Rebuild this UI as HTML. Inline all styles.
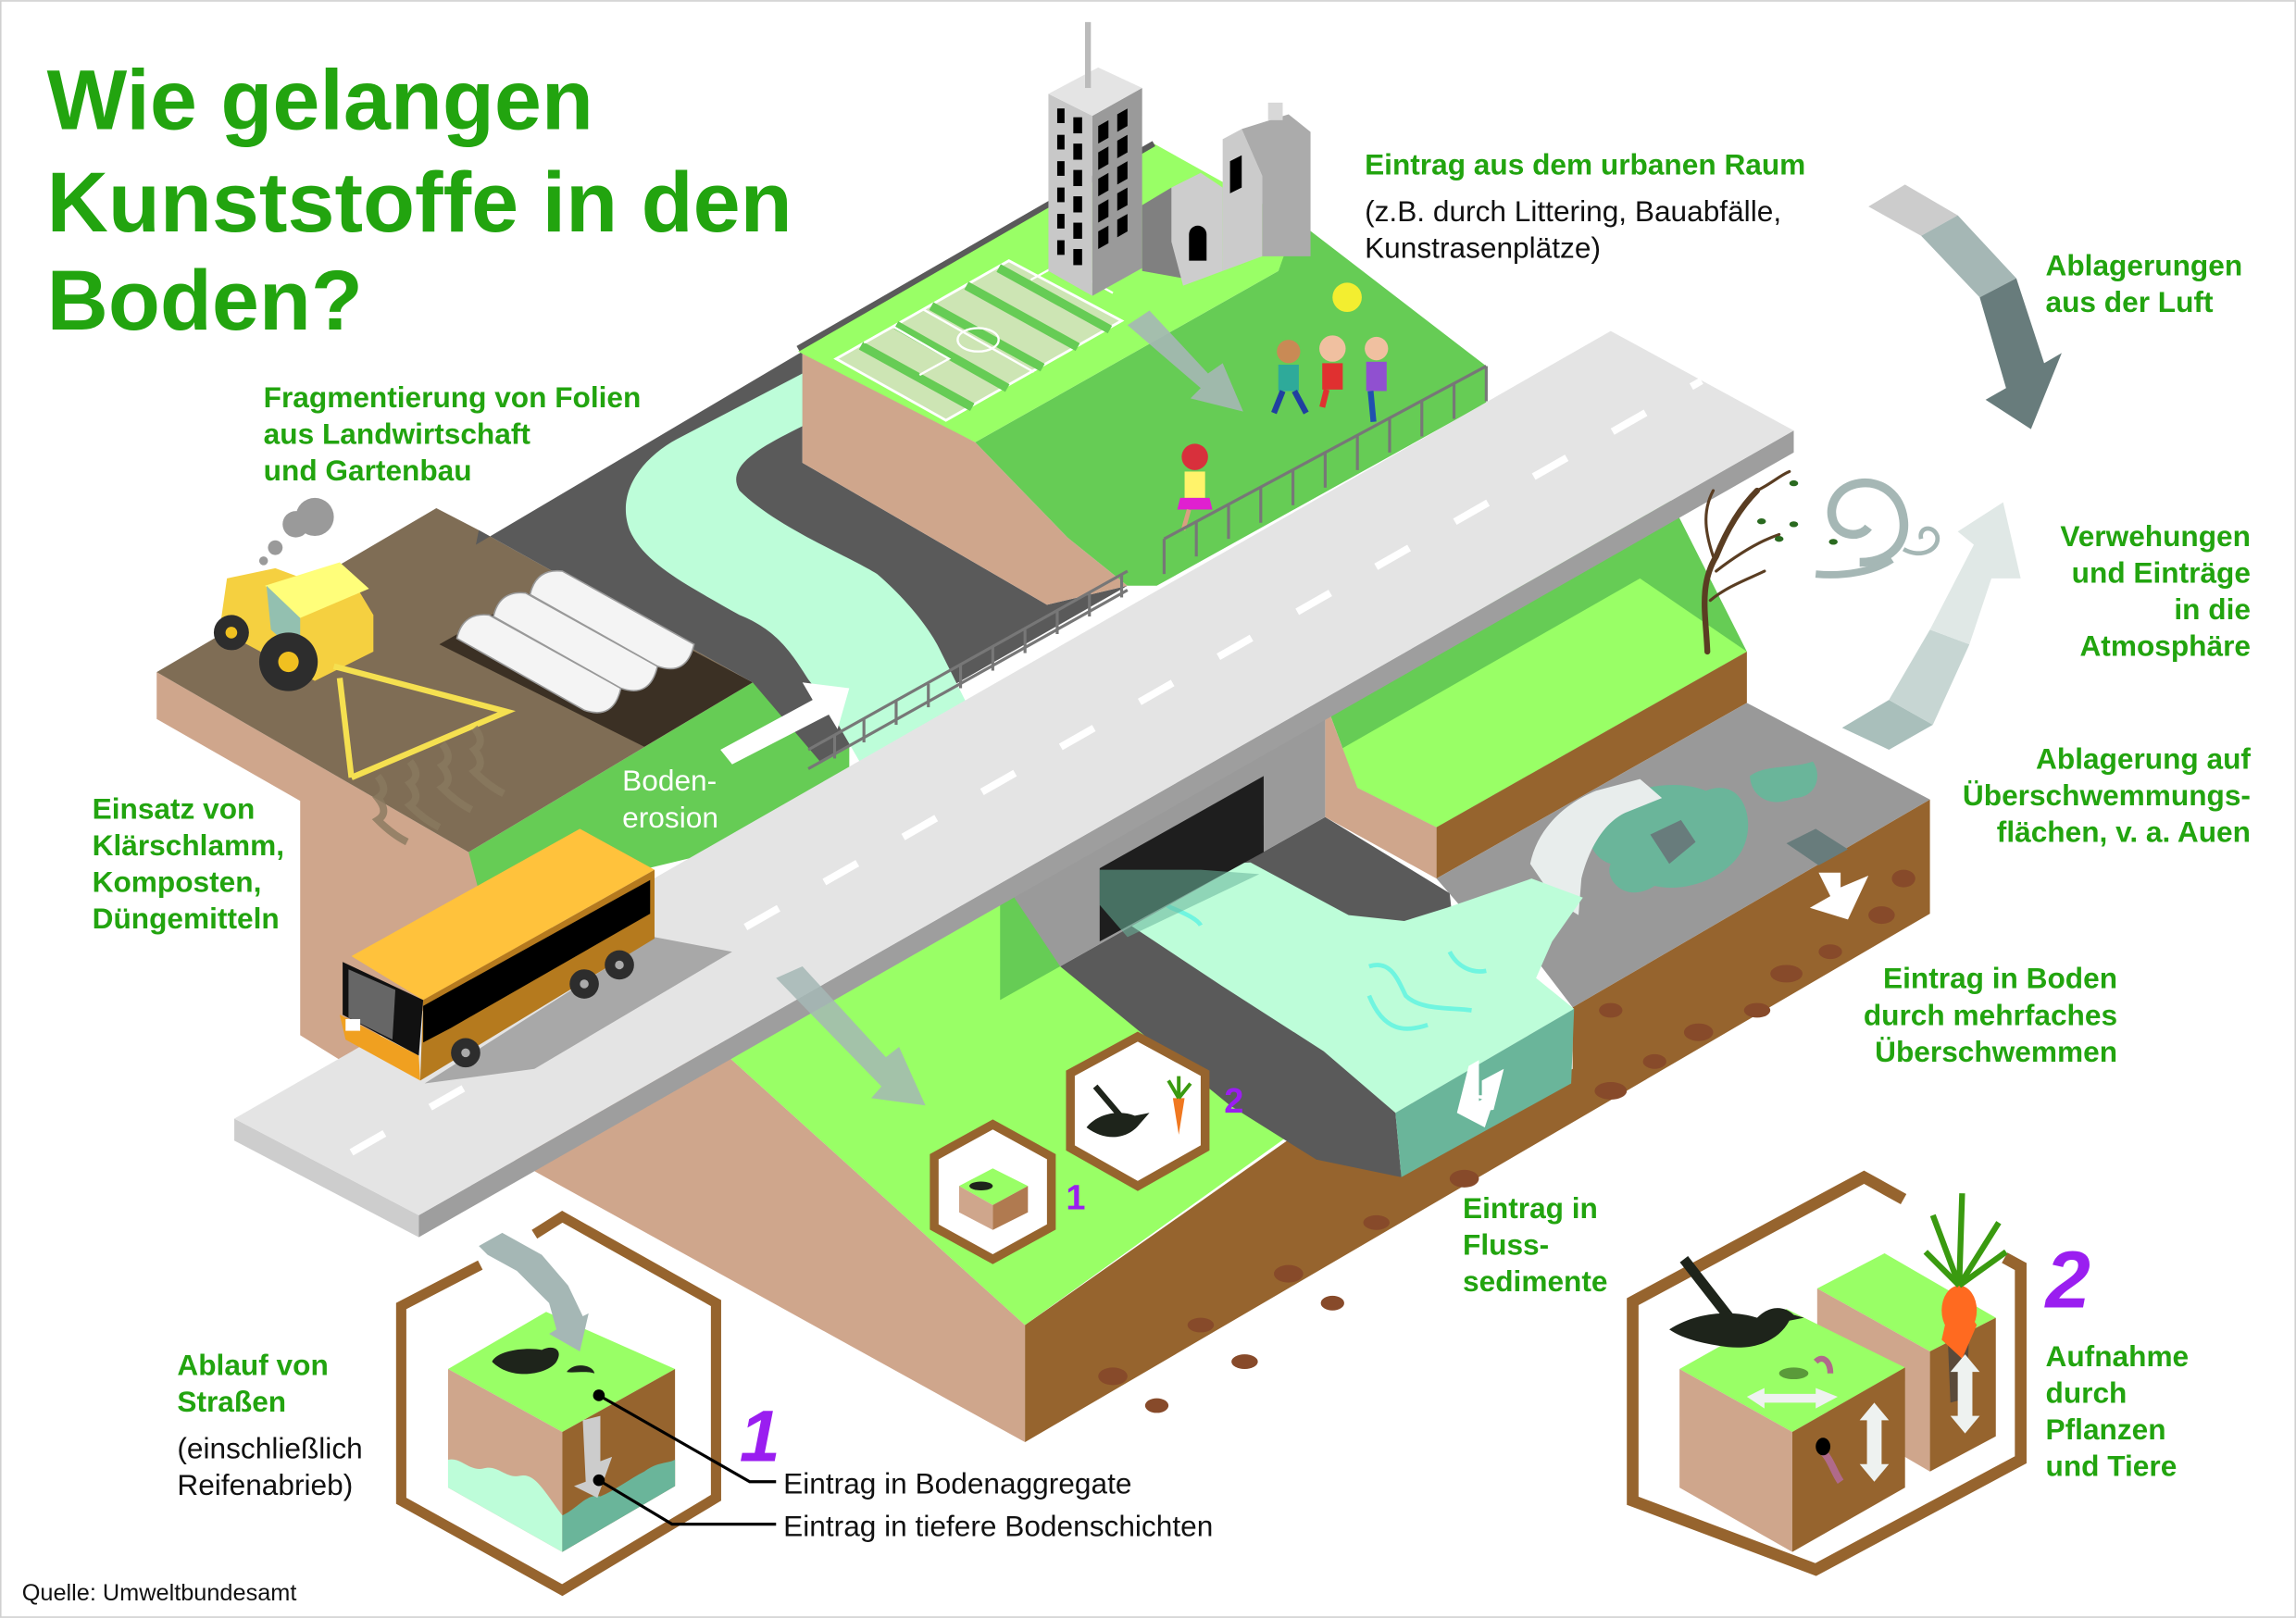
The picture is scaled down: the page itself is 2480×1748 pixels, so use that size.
<!DOCTYPE html>
<html><head><meta charset="utf-8">
<style>
html,body{margin:0;padding:0;background:#fff;}
svg{display:block;}
text{font-family:"Liberation Sans",Arial,sans-serif;}
.g{fill:#22a40f;font-weight:bold;font-size:20px;}
.k{fill:#111;font-size:20px;}
</style></head>
<body>
<svg width="2480" height="1748" viewBox="0 0 1568 1105" xmlns="http://www.w3.org/2000/svg">
<rect x="0" y="0" width="1568" height="1105" fill="#fff"/>
<rect x="0.5" y="0.5" width="1567" height="1104" fill="none" stroke="#d0d0d0" stroke-width="1"/>

<!-- Title -->
<text x="32" y="88" fill="#22a40f" font-weight="bold" font-size="58">Wie gelangen</text>
<text x="32" y="158" fill="#22a40f" font-weight="bold" font-size="58">Kunststoffe in den</text>
<text x="32" y="225" fill="#22a40f" font-weight="bold" font-size="58">Boden?</text>

<!-- ===== bottom slab ===== -->
<polygon points="107,459 107,491 205,547 205,707 250,735 367,801 700,985 700,905 490,715 330,600 320,582" fill="#cfa68c"/>
<polygon points="700,905 899,765 955,800 1074,730 1074,688 1318,546 1318,624 700,985" fill="#96642e"/>
<g fill="#874a2a">
<ellipse cx="760" cy="940" rx="10" ry="6"/><ellipse cx="820" cy="905" rx="9" ry="5"/><ellipse cx="880" cy="870" rx="10" ry="6"/>
<ellipse cx="940" cy="835" rx="9" ry="5"/><ellipse cx="1000" cy="805" rx="10" ry="6"/><ellipse cx="1100" cy="745" rx="11" ry="6"/>
<ellipse cx="1160" cy="705" rx="10" ry="6"/><ellipse cx="1220" cy="665" rx="11" ry="6"/><ellipse cx="1285" cy="625" rx="9" ry="6"/>
<ellipse cx="790" cy="960" rx="8" ry="5"/><ellipse cx="850" cy="930" rx="9" ry="5"/><ellipse cx="910" cy="890" rx="8" ry="5"/>
<ellipse cx="1130" cy="725" rx="8" ry="5"/><ellipse cx="1250" cy="650" rx="8" ry="5"/><ellipse cx="1300" cy="600" rx="8" ry="6"/>
<ellipse cx="1200" cy="690" rx="9" ry="5"/><ellipse cx="1260" cy="610" rx="7" ry="5"/><ellipse cx="1100" cy="690" rx="8" ry="5"/>
</g>
<!-- light green ground left of river -->
<polygon points="490,715 686,603 724,660 899,762 700,905" fill="#99ff66"/>
<polygon points="683,605 712,590 724,660 683,683" fill="#66cc55"/>
<!-- riverbed -->
<polygon points="724,660 905,558 990,610 1000,700 953,760 899,792 840,755" fill="#5a5a5a"/>
<polygon points="899,762 953,760 957,804 899,792" fill="#5a5a5a"/>

<!-- right bank -->
<polygon points="905,479 1140,340 1193,445 981,565 927,538" fill="#66cc55"/>
<polygon points="915,512 1120,395 1193,445 981,565 927,538" fill="#99ff66"/>
<polygon points="981,565 1193,445 1193,480 981,600" fill="#96642e"/>
<polygon points="905,479 927,538 981,565 981,600 905,558" fill="#cfa68c"/>

<!-- flood plain -->
<polygon points="981,600 1193,480 1318,546 1074,688 1045,650 1000,622" fill="#999"/>
<path d="M1090,560 C1100,540 1140,530 1165,540 C1190,530 1200,560 1190,580 C1180,600 1150,610 1130,605 C1110,618 1095,600 1100,590 C1085,585 1083,570 1090,560 Z" fill="#6ab59a"/>
<path d="M1195,530 C1205,522 1225,525 1238,520 C1245,530 1240,545 1225,545 C1210,552 1196,545 1195,530 Z" fill="#6ab59a"/>
<polygon points="1127,570 1148,560 1158,575 1140,590" fill="#687c7c"/>
<polygon points="1220,576 1240,566 1262,580 1242,591" fill="#687c7c"/>
<path d="M1045,590 C1050,565 1070,548 1090,540 L1120,532 L1135,545 L1110,555 C1095,562 1085,580 1080,600 L1078,625 L1062,615 Z" fill="#e8edec"/>
<polygon points="1242,596 1257,596 1257,606 1276,598 1262,628 1236,620 1250,612" fill="#fff"/>

<!-- water -->
<polygon points="751,594 854,589 921,625 959,629 988,620 1046,600 1081,613 1060,643 1049,668 1075,689 953,760 904,718 834,673 751,618" fill="#bdfdd9"/>
<polygon points="953,760 1075,689 1073,740 957,804" fill="#6ab59a"/>
<polygon points="1005,748 1012,748 1012,738 1027,730 1020,758 1000,760 1015,752" fill="#fff"/>
<polygon points="1003,728 1010,724 1010,752 1022,746 1014,770 995,760" fill="#fff"/>
<g stroke="#70f5e0" stroke-width="3" fill="none">
<path d="M766,600 C780,598 790,615 800,620 C810,624 818,628 820,632"/>
<path d="M935,680 C945,705 960,705 975,700"/>
<path d="M935,660 C950,655 955,670 960,680 C970,690 990,688 1005,690"/>
<path d="M990,650 C995,660 1005,665 1015,663"/>
</g>

<!-- bridge -->
<polygon points="686,603 905,479 905,558 724,660" fill="#9a9a9a"/>
<polygon points="751,593 863,530 863,582 751,643" fill="#1e1e1e"/>
<polygon points="751,594 820,594 860,597 770,640 751,618" fill="#6ab59a" opacity="0.55"/>

<!-- ===== left agricultural block ===== -->
<polygon points="320,582 514,466 580,505 580,560 330,620" fill="#66cc55"/>
<polygon points="107,459 298,347 327,362 514,466 320,582" fill="#7f6d55"/>
<polygon points="300,440 380,395 514,466 440,510" fill="#3b3024"/>
<!-- dark road + winding river -->
<polygon points="325,372 548,240 548,316 715,413 770,400 560,520 514,466 327,362" fill="#5a5a5a"/>
<path d="M462,300 L548,255 L548,291 C520,305 495,318 505,335 C530,360 580,380 599,392 C620,410 635,430 641,442 C650,460 660,480 670,500 L590,525 C575,500 565,480 552,464 C540,445 530,430 505,420 C470,400 440,385 430,362 C420,335 440,312 462,300 Z" fill="#bdfdd9"/>

<!-- ===== upper city hill ===== -->
<polygon points="548,238 666,302 729,367 770,400 715,413 548,316" fill="#cfa68c"/>
<polygon points="666,302 873,185 885,150 1015,250 1015,275 790,400 770,400 729,367" fill="#66cc55"/>
<polygon points="545,240 788,98 885,152 873,185 666,302" fill="#99ff66"/>
<line x1="545" y1="238" x2="788" y2="98" stroke="#5a5a5a" stroke-width="4"/>
<!-- soccer field -->
<polygon points="571,245 689,178 766,219 646,287" fill="#cde5b4" stroke="#fff" stroke-width="1.8"/>
<g stroke="#66cc55" stroke-width="6">
<line x1="588" y1="236" x2="664" y2="278"/><line x1="612" y1="222" x2="688" y2="265"/>
<line x1="636" y1="209" x2="712" y2="251"/><line x1="660" y1="195" x2="736" y2="237"/><line x1="682" y1="183" x2="758" y2="225"/>
</g>
<g stroke="#fff" stroke-width="1.5" fill="none">
<line x1="630" y1="211" x2="706" y2="254"/>
<ellipse cx="668" cy="232" rx="14" ry="8"/>
<polyline points="704,191 724,180 760,200"/>
<polyline points="590,234 610,223 648,245 628,256"/>
</g>
<!-- buildings -->
<polygon points="716,64 746,79 746,202 716,185" fill="#c8c8c8"/>
<polygon points="746,79 780,60 780,183 746,202" fill="#9a9a9a"/>
<polygon points="716,64 746,79 780,60 750,46" fill="#e4e4e4"/>
<rect x="741" y="15" width="4" height="45" fill="#bbb"/>
<g fill="#000">
<rect x="722" y="74" width="5" height="10"/><rect x="733" y="80" width="6" height="11"/>
<rect x="722" y="92" width="5" height="10"/><rect x="733" y="98" width="6" height="11"/>
<rect x="722" y="110" width="5" height="10"/><rect x="733" y="116" width="6" height="11"/>
<rect x="722" y="128" width="5" height="10"/><rect x="733" y="134" width="6" height="11"/>
<rect x="722" y="146" width="5" height="10"/><rect x="733" y="152" width="6" height="11"/>
<rect x="722" y="164" width="5" height="10"/><rect x="733" y="170" width="6" height="11"/>
<polygon points="750,86 757,82 757,94 750,98"/><polygon points="763,78 770,74 770,86 763,90"/>
<polygon points="750,104 757,100 757,112 750,116"/><polygon points="763,96 770,92 770,104 763,108"/>
<polygon points="750,122 757,118 757,130 750,134"/><polygon points="763,114 770,110 770,122 763,126"/>
<polygon points="750,140 757,136 757,148 750,152"/><polygon points="763,132 770,128 770,140 763,144"/>
<polygon points="750,158 757,154 757,166 750,170"/><polygon points="763,150 770,146 770,158 763,162"/>
</g>
<polygon points="780,140 800,128 808,190 780,185" fill="#808080"/>
<polygon points="800,128 820,118 835,128 835,185 808,195 800,165" fill="#cdcdcd"/>
<path d="M812,160 a6,6 0 0 1 12,0 v18 h-12 z" fill="#000"/>
<polygon points="835,95 848,88 862,120 862,175 835,185" fill="#cbcbcb"/>
<polygon points="848,88 880,78 895,90 895,175 862,175 862,120" fill="#ababab"/>
<polygon points="840,110 848,106 848,128 840,132" fill="#000"/>
<rect x="866" y="70" width="10" height="12" fill="#d8d8d8"/>
<circle cx="920" cy="203" r="10" fill="#f3ee30"/>
<!-- people -->
<circle cx="880" cy="240" r="8" fill="#c98a55"/><rect x="873" y="249" width="14" height="18" fill="#2eaa9a"/><line x1="876" y1="267" x2="870" y2="282" stroke="#2040a0" stroke-width="4"/><line x1="884" y1="267" x2="892" y2="282" stroke="#2040a0" stroke-width="4"/>
<circle cx="910" cy="238" r="9" fill="#f0c0a0"/><rect x="903" y="248" width="14" height="18" fill="#e03030"/><line x1="906" y1="266" x2="903" y2="278" stroke="#e03030" stroke-width="4"/>
<circle cx="940" cy="238" r="8" fill="#f0c0a0"/><rect x="933" y="247" width="14" height="20" fill="#9050d0"/><line x1="936" y1="267" x2="938" y2="288" stroke="#2050b0" stroke-width="4"/>
<circle cx="816" cy="312" r="9" fill="#d8303c"/><rect x="809" y="322" width="14" height="18" fill="#fff36a"/><polygon points="806,340 826,340 828,348 804,348" fill="#e020d0"/><line x1="812" y1="348" x2="808" y2="362" stroke="#d9a080" stroke-width="3"/>
<!-- arrow on hill -->
<polygon points="770,222 785,212 825,255 835,248 849,281 813,272 820,265" fill="#a5b7b5" opacity="0.9"/>

<!-- railings -->
<g stroke="#777" stroke-width="2" fill="none">
<path d="M552,512 L770,390 M552,525 L770,403"/>
<path d="M686,578 L905,454"/>
<path d="M795,368 L1015,250"/>
</g>
<g stroke="#777" stroke-width="2">
<line x1="570" y1="502" x2="570" y2="518"/><line x1="590" y1="491" x2="590" y2="507"/><line x1="612" y1="479" x2="612" y2="495"/><line x1="634" y1="467" x2="634" y2="483"/><line x1="656" y1="454" x2="656" y2="470"/><line x1="678" y1="442" x2="678" y2="458"/><line x1="700" y1="430" x2="700" y2="446"/><line x1="722" y1="417" x2="722" y2="433"/><line x1="744" y1="405" x2="744" y2="421"/><line x1="766" y1="392" x2="766" y2="408"/>
<line x1="686" y1="578" x2="686" y2="600"/><line x1="708" y1="566" x2="708" y2="588"/><line x1="730" y1="553" x2="730" y2="575"/><line x1="752" y1="541" x2="752" y2="563"/><line x1="774" y1="528" x2="774" y2="550"/><line x1="796" y1="516" x2="796" y2="538"/><line x1="818" y1="503" x2="818" y2="525"/><line x1="840" y1="491" x2="840" y2="513"/><line x1="862" y1="478" x2="862" y2="500"/><line x1="884" y1="466" x2="884" y2="488"/><line x1="905" y1="454" x2="905" y2="476"/>
<line x1="795" y1="368" x2="795" y2="392"/><line x1="817" y1="356" x2="817" y2="380"/><line x1="839" y1="344" x2="839" y2="368"/><line x1="861" y1="333" x2="861" y2="357"/><line x1="883" y1="321" x2="883" y2="345"/><line x1="905" y1="309" x2="905" y2="333"/><line x1="927" y1="297" x2="927" y2="321"/><line x1="949" y1="285" x2="949" y2="309"/><line x1="971" y1="274" x2="971" y2="298"/><line x1="993" y1="262" x2="993" y2="286"/><line x1="1015" y1="250" x2="1015" y2="274"/>
</g>

<!-- road -->
<polygon points="160,764 286,830 286,845 160,779" fill="#cdcdcd"/>
<polygon points="286,830 1225,294 1225,309 286,845" fill="#9e9e9e"/>
<polygon points="160,764 1100,226 1225,294 286,830" fill="#e4e4e4"/>
<line x1="240" y1="787" x2="1162" y2="260" stroke="#fff" stroke-width="5" stroke-dasharray="26 36"/>
<!-- bus shadow -->
<polygon points="290,740 447,640 500,650 365,730" fill="#a8a8a8"/>

<!-- greenhouses -->
<g stroke="#999" stroke-width="1">
<path d="M312,436 q4,-18 22,-16 l90,50 q-5,22 -25,15 z" fill="#f4f4f4"/>
<path d="M337,421 q4,-18 22,-16 l90,50 q-5,22 -25,15 z" fill="#f4f4f4"/>
<path d="M362,406 q4,-18 22,-16 l90,50 q-5,22 -25,15 z" fill="#f4f4f4"/>
</g>
<!-- tractor -->
<polygon points="155,395 188,388 215,398 240,395 255,420 255,445 215,465 150,430" fill="#f5d040"/>
<polygon points="181,400 232,384 252,402 205,422" fill="#fffe7a"/>
<polygon points="182,400 205,422 205,448 185,430" fill="#93c0b0"/>
<circle cx="158" cy="432" r="12" fill="#2d2d2d"/><circle cx="158" cy="432" r="4" fill="#f0c020"/>
<circle cx="197" cy="452" r="20" fill="#2d2d2d"/><circle cx="197" cy="452" r="7" fill="#f0c020"/>
<circle cx="215" cy="353" r="13" fill="#9a9a9a"/><circle cx="202" cy="358" r="9" fill="#9a9a9a"/><circle cx="188" cy="374" r="5" fill="#9a9a9a"/><circle cx="180" cy="383" r="3" fill="#9a9a9a"/>
<g stroke="#f5e050" stroke-width="4" fill="none">
<polyline points="228,455 346,486 240,531"/><line x1="232" y1="463" x2="240" y2="531"/>
</g>
<g stroke="#8a7a60" stroke-width="5" fill="none" opacity="0.8">
<path d="M258,530 q8,10 0,15 q8,10 0,15 q10,10 20,15"/>
<path d="M280,520 q8,10 0,15 q8,10 0,15 q10,10 20,15"/>
<path d="M302,508 q8,10 0,15 q8,10 0,15 q10,10 20,15"/>
<path d="M324,497 q8,10 0,15 q8,10 0,15 q10,10 20,15"/>
</g>
<!-- bus -->
<polygon points="240,653 396,566 447,594 289,683" fill="#ffc23c"/>
<polygon points="289,683 447,594 447,641 287,738" fill="#b57a1e"/>
<polygon points="289,687 444,601 444,624 308,702 289,712" fill="#000"/>
<polygon points="234,657 289,683 286,721 234,693" fill="#111"/>
<polygon points="238,662 270,676 268,710 238,695" fill="#666"/>
<polygon points="232,693 286,721 287,738 236,710" fill="#f0a020"/>
<rect x="236" y="696" width="10" height="8" fill="#fff"/>
<circle cx="318" cy="719" r="10" fill="#2d2d2d"/><circle cx="399" cy="672" r="10" fill="#2d2d2d"/><circle cx="423" cy="659" r="10" fill="#2d2d2d"/>
<circle cx="318" cy="719" r="3" fill="#aaa"/><circle cx="399" cy="672" r="3" fill="#aaa"/><circle cx="423" cy="659" r="3" fill="#aaa"/>

<!-- arrows -->
<polygon points="492,512 555,478 548,466 580,470 572,498 566,488 500,522" fill="#fff"/>
<polygon points="530,668 548,660 605,722 614,715 632,755 595,750 602,742" fill="#a5b7b5" opacity="0.85"/>
<polygon points="1276,141 1301,126 1337,147 1312,161" fill="#cccccc"/>
<polygon points="1312,161 1337,147 1377,190 1352,203" fill="#a5b7b5"/>
<polygon points="1352,203 1377,190 1396,248 1408,241 1387,293 1356,273 1370,265" fill="#687c7c"/>
<polygon points="1258,497 1290,478 1320,495 1290,512" fill="#a9bfbb"/>
<polygon points="1290,478 1320,495 1345,440 1318,430" fill="#c7d6d3"/>
<polygon points="1318,430 1345,440 1360,395 1380,395 1368,343 1337,363 1348,372" fill="#e0e8e6"/>

<!-- tree + wind -->
<g stroke="#5a3d22" fill="none" stroke-linecap="round">
<path d="M1166,445 C1165,420 1160,400 1172,380 C1180,360 1190,345 1200,335" stroke-width="4"/>
<path d="M1172,390 C1185,380 1200,370 1215,365" stroke-width="2"/>
<path d="M1168,410 C1180,400 1195,395 1205,390" stroke-width="2"/>
<path d="M1170,380 C1165,365 1162,350 1170,335" stroke-width="2"/>
<path d="M1200,335 C1210,330 1215,325 1222,322" stroke-width="2"/>
</g>
<g fill="#2a6a20"><ellipse cx="1225" cy="330" rx="3" ry="2"/><ellipse cx="1203" cy="356" rx="3" ry="2"/><ellipse cx="1225" cy="358" rx="3" ry="2"/><ellipse cx="1215" cy="368" rx="3" ry="2"/><ellipse cx="1252" cy="370" rx="3" ry="2"/></g>
<path d="M1270,384 C1290,384 1302,372 1300,355 C1298,338 1285,328 1270,330 C1255,332 1248,345 1252,356 C1256,366 1270,368 1276,360" stroke="#a5b7b5" stroke-width="6" fill="none"/>
<path d="M1240,392 C1260,394 1280,390 1292,382" stroke="#a5b7b5" stroke-width="5" fill="none"/>
<path d="M1300,375 C1312,382 1325,375 1323,366 C1320,358 1310,360 1312,368" stroke="#a5b7b5" stroke-width="3" fill="none"/>

<!-- small hexes -->
<polygon points="678,768 718,790 718,838 678,860 638,838 638,790" fill="#fff" stroke="#96642e" stroke-width="6"/>
<polygon points="655,810 678,798 702,810 678,823" fill="#99ff66"/>
<polygon points="655,810 678,823 678,840 655,828" fill="#cfa68c"/>
<polygon points="678,823 702,810 702,828 678,840" fill="#b07a50"/>
<ellipse cx="670" cy="810" rx="8" ry="3" fill="#1e241b"/>
<polygon points="777,708 823,733 823,784 777,810 731,784 731,733" fill="#fff" stroke="#96642e" stroke-width="6"/>
<path d="M742,770 C750,760 765,758 775,762 L785,760 L778,768 C770,778 755,780 742,770 Z" fill="#1e241b"/>
<path d="M748,742 L765,762" stroke="#1e241b" stroke-width="4"/>
<polygon points="801,750 809,750 805,775" fill="#f07820"/>
<path d="M805,750 L798,738 M805,750 L805,735 M805,750 L813,740" stroke="#3a9a10" stroke-width="2.5"/>
<text x="728" y="826" fill="#9a1ef0" font-weight="bold" font-size="24">1</text>
<text x="836" y="760" fill="#9a1ef0" font-weight="bold" font-size="24">2</text>

<!-- bottom-left hex -->
<path d="M365,843 L384,831 L489,890 L489,1023 L384,1086 L274,1025 L274,892 L328,864" fill="none" stroke="#96642e" stroke-width="7"/>
<polygon points="306,935 373,896 461,935 384,978" fill="#99ff66"/>
<polygon points="306,935 384,978 384,1060 306,1016" fill="#cfa68c"/>
<polygon points="384,978 461,935 461,1015 384,1060" fill="#96642e"/>
<path d="M306,997 C315,995 320,1005 330,1003 C340,1000 345,1010 355,1008 C365,1006 370,1016 384,1035 L384,1060 L306,1016 Z" fill="#bdfdd9"/>
<path d="M384,1035 C395,1030 400,1020 410,1022 C420,1018 430,1010 440,1005 C450,998 455,1000 461,997 L461,1015 L384,1060 Z" fill="#6ab59a"/>
<path d="M336,930 C340,922 360,920 370,922 C378,918 385,922 380,930 C375,938 350,944 336,930 Z" fill="#1e241b"/>
<path d="M387,937 C392,930 405,932 406,938 C400,936 392,938 387,937 Z" fill="#1e241b"/>
<polygon points="327,851 343,842 370,857 388,878 398,899 402,897 396,923 375,911 380,908 375,890 353,868 333,857" fill="#a5b7b5"/>
<polygon points="398,970 410,967 410,998 418,995 408,1023 392,1015 400,1012" fill="#ccc"/>
<circle cx="409" cy="953" r="4" fill="#000"/>
<circle cx="409" cy="1011" r="4" fill="#000"/>
<polyline points="409,953 512,1012 530,1012" fill="none" stroke="#000" stroke-width="2"/>
<polyline points="409,1011 459,1041 530,1041" fill="none" stroke="#000" stroke-width="2"/>
<text x="505" y="998" fill="#9a1ef0" font-weight="bold" font-style="italic" font-size="50">1</text>

<!-- bottom-right hex -->
<path d="M1300,819 L1273,804 L1115,889 L1115,1025 L1240,1072 L1380,997 L1380,865 L1369,859" fill="none" stroke="#96642e" stroke-width="8"/>
<polygon points="1241,880 1287,856 1363,900 1318,923" fill="#99ff66"/>
<polygon points="1241,880 1318,923 1318,1005 1241,960" fill="#cfa68c"/>
<polygon points="1318,923 1363,900 1363,981 1318,1005" fill="#96642e"/>
<polygon points="1147,935 1220,894 1301,934 1224,978" fill="#99ff66"/>
<polygon points="1147,935 1224,978 1224,1060 1147,1016" fill="#cfa68c"/>
<polygon points="1224,978 1301,934 1301,1016 1224,1060" fill="#96642e"/>
<polygon points="1330,910 1345,905 1343,955 1332,958" fill="#5a4a3a"/>
<polygon points="1334,880 1350,905 1340,928 1326,915" fill="#ff6a20"/>
<ellipse cx="1338" cy="895" rx="12" ry="17" fill="#ff6a20"/>
<g stroke="#3a9a10" stroke-width="4"><line x1="1338" y1="878" x2="1320" y2="830"/><line x1="1338" y1="878" x2="1340" y2="815"/><line x1="1338" y1="878" x2="1365" y2="835"/><line x1="1338" y1="878" x2="1315" y2="855"/><line x1="1338" y1="878" x2="1370" y2="855"/></g>
<path d="M1140,908 C1160,895 1185,895 1200,900 C1210,890 1220,893 1225,898 L1232,900 L1222,902 C1215,915 1200,922 1180,920 C1165,918 1150,915 1140,908 Z" fill="#1e241b"/>
<path d="M1150,860 L1185,905" stroke="#1e241b" stroke-width="7"/>
<ellipse cx="1225" cy="938" rx="10" ry="4" fill="#5a9a3a"/>
<polygon points="1193,954 1205,948 1205,952 1240,952 1240,948 1255,954 1240,962 1240,958 1205,958 1205,962" fill="#eef2f0"/>
<polygon points="1280,958 1290,970 1285,970 1285,1000 1290,1000 1280,1012 1270,1000 1275,1000 1275,970 1270,970" fill="#eef2f0"/>
<polygon points="1342,925 1352,937 1347,937 1347,967 1352,967 1342,979 1332,967 1337,967 1337,937 1332,937" fill="#eef2f0"/>
<path d="M1243,990 C1250,995 1252,1005 1257,1012" stroke="#b06a8a" stroke-width="5" fill="none"/>
<ellipse cx="1245" cy="988" rx="5" ry="6" fill="#000"/>
<path d="M1240,930 C1245,925 1250,930 1250,938" stroke="#b06a8a" stroke-width="4" fill="none"/>
<text x="1397" y="893" fill="#9a1ef0" font-weight="bold" font-style="italic" font-size="55">2</text>

<!-- labels -->
<text class="g" x="180" y="278">Fragmentierung von Folien</text>
<text class="g" x="180" y="303">aus Landwirtschaft</text>
<text class="g" x="180" y="328">und Gartenbau</text>

<text class="g" x="932" y="119">Eintrag aus dem urbanen Raum</text>
<text class="k" x="932" y="151">(z.B. durch Littering, Bauabfälle,</text>
<text class="k" x="932" y="176">Kunstrasenplätze)</text>

<text class="g" x="1397" y="188">Ablagerungen</text>
<text class="g" x="1397" y="213">aus der Luft</text>

<g text-anchor="end">
<text class="g" x="1537" y="373">Verwehungen</text>
<text class="g" x="1537" y="398">und Einträge</text>
<text class="g" x="1537" y="423">in die</text>
<text class="g" x="1537" y="448">Atmosphäre</text>
<text class="g" x="1537" y="525">Ablagerung auf</text>
<text class="g" x="1537" y="550">Überschwemmungs-</text>
<text class="g" x="1537" y="575">flächen, v. a. Auen</text>
<text class="g" x="1446" y="675">Eintrag in Boden</text>
<text class="g" x="1446" y="700">durch mehrfaches</text>
<text class="g" x="1446" y="725">Überschwemmen</text>
</g>

<text class="g" x="999" y="832">Eintrag in</text>
<text class="g" x="999" y="857">Fluss-</text>
<text class="g" x="999" y="882">sedimente</text>

<text class="g" x="63" y="559">Einsatz von</text>
<text class="g" x="63" y="584">Klärschlamm,</text>
<text class="g" x="63" y="609">Komposten,</text>
<text class="g" x="63" y="634">Düngemitteln</text>

<text x="425" y="540" fill="#fff" font-size="20">Boden-</text>
<text x="425" y="565" fill="#fff" font-size="20">erosion</text>

<text class="g" x="121" y="939">Ablauf von</text>
<text class="g" x="121" y="964">Straßen</text>
<text class="k" x="121" y="996">(einschließlich</text>
<text class="k" x="121" y="1021">Reifenabrieb)</text>

<text class="k" x="535" y="1020">Eintrag in Bodenaggregate</text>
<text class="k" x="535" y="1049">Eintrag in tiefere Bodenschichten</text>

<text class="g" x="1397" y="933">Aufnahme</text>
<text class="g" x="1397" y="958">durch</text>
<text class="g" x="1397" y="983">Pflanzen</text>
<text class="g" x="1397" y="1008">und Tiere</text>

<text x="15" y="1093" fill="#111" font-size="16">Quelle: Umweltbundesamt</text>
</svg>
</body></html>
